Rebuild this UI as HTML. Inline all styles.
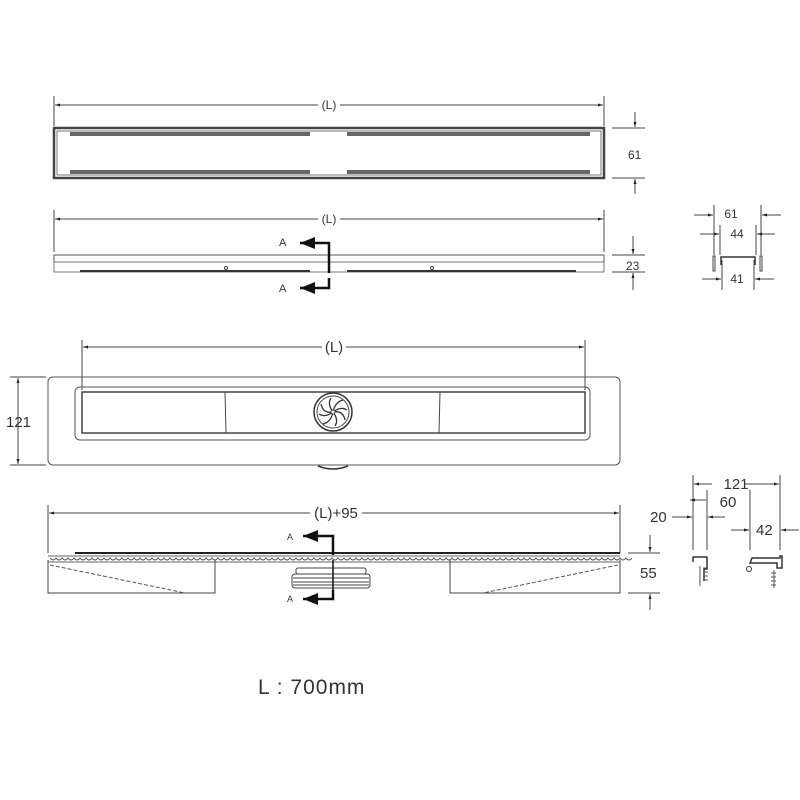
<!DOCTYPE html>
<html><head><meta charset="utf-8"><style>
html,body{margin:0;padding:0;background:#fff;}
svg{display:block;}
text{font-family:"Liberation Sans",sans-serif;fill:#333;}
</style></head><body>
<svg width="800" height="800" viewBox="0 0 800 800" xmlns="http://www.w3.org/2000/svg">
<defs>
<marker id="ar" viewBox="0 0 10 10" refX="10" refY="5" markerWidth="7" markerHeight="5" orient="auto-start-reverse"><path d="M0,2 L10,5 L0,8 z" fill="#222"/></marker>
<marker id="big" viewBox="0 0 10 10" refX="10" refY="5" markerWidth="6" markerHeight="6" orient="auto"><path d="M0,1 L10,5 L0,9 z" fill="#111"/></marker>
</defs>
<g stroke="#444" fill="none" stroke-width="1">
<!-- View 1 -->
<line x1="54" y1="96" x2="54" y2="126"/><line x1="604" y1="96" x2="604" y2="126"/>
<line x1="55" y1="105" x2="318" y2="105" marker-start="url(#ar)"/><line x1="340" y1="105" x2="603" y2="105" marker-end="url(#ar)"/>
<rect x="54" y="128" width="550" height="50" stroke="#444" stroke-width="2.5"/>
<rect x="57" y="131" width="544" height="44" stroke="#777"/>
<line x1="70" y1="134" x2="310" y2="134" stroke="#666" stroke-width="4"/><line x1="347" y1="134" x2="590" y2="134" stroke="#666" stroke-width="4"/>
<line x1="70" y1="172" x2="310" y2="172" stroke="#666" stroke-width="4"/><line x1="347" y1="172" x2="590" y2="172" stroke="#666" stroke-width="4"/>
<line x1="612" y1="128" x2="645" y2="128"/><line x1="612" y1="178" x2="645" y2="178"/>
<line x1="635" y1="112" x2="635" y2="127" marker-end="url(#ar)"/><line x1="635" y1="194" x2="635" y2="179" marker-end="url(#ar)"/>
<!-- View 2 -->
<line x1="54" y1="210" x2="54" y2="252"/><line x1="604" y1="210" x2="604" y2="252"/>
<line x1="55" y1="219" x2="318" y2="219" marker-start="url(#ar)"/><line x1="340" y1="219" x2="603" y2="219" marker-end="url(#ar)"/>
<rect x="54" y="255" width="550" height="7" stroke="#555"/>
<rect x="54" y="262" width="550" height="10" stroke="#777"/>
<line x1="80" y1="271" x2="310" y2="271" stroke="#333" stroke-width="2"/><line x1="347" y1="271" x2="576" y2="271" stroke="#333" stroke-width="2"/>
<circle cx="226" cy="268" r="1.5"/><circle cx="432" cy="268" r="1.5"/>
<line x1="612" y1="255" x2="645" y2="255"/><line x1="612" y1="272" x2="645" y2="272"/>
<line x1="633" y1="236" x2="633" y2="254" marker-end="url(#ar)"/><line x1="633" y1="290" x2="633" y2="273" marker-end="url(#ar)"/>
<!-- section A small -->
<line x1="714" y1="205" x2="714" y2="255"/><line x1="761" y1="205" x2="761" y2="255"/>
<line x1="720" y1="225" x2="720" y2="255"/><line x1="756" y1="225" x2="756" y2="255"/>
<line x1="722" y1="260" x2="722" y2="290"/><line x1="754" y1="260" x2="754" y2="290"/>
<line x1="694" y1="215" x2="713" y2="215" marker-end="url(#ar)"/><line x1="781" y1="215" x2="762" y2="215" marker-end="url(#ar)"/>
<line x1="700" y1="234" x2="719" y2="234" marker-end="url(#ar)"/><line x1="775" y1="234" x2="757" y2="234" marker-end="url(#ar)"/>
<line x1="702" y1="279" x2="721" y2="279" marker-end="url(#ar)"/><line x1="774" y1="279" x2="755" y2="279" marker-end="url(#ar)"/>
<path d="M721,265 v-8 h34 v8" stroke="#333" stroke-width="1.5"/>
<rect x="713" y="256" width="2" height="15"/><rect x="760" y="256" width="2" height="15"/>
<!-- View 3 -->
<line x1="82" y1="340" x2="82" y2="390"/><line x1="585" y1="340" x2="585" y2="390"/>
<line x1="83" y1="347" x2="322" y2="347" marker-start="url(#ar)"/><line x1="346" y1="347" x2="584" y2="347" marker-end="url(#ar)"/>
<rect x="48" y="377" width="572" height="88" rx="5" stroke="#555"/>
<rect x="75" y="387" width="515" height="53" rx="5" stroke="#555"/>
<rect x="82" y="392" width="503" height="41" stroke="#444" stroke-width="1.5"/>
<line x1="225" y1="392" x2="226" y2="433"/><line x1="440" y1="392" x2="439" y2="433"/>
<circle cx="333" cy="412" r="19" stroke="#333" stroke-width="1.5"/><circle cx="333" cy="412" r="16"/>
<g stroke="#333" stroke-width="1.3">
<path d="M333,412 q2,-10 10,-12"/><path d="M333,412 q10,-2 12,8"/><path d="M333,412 q-2,10 -10,12"/><path d="M333,412 q-10,2 -12,-8"/>
<path d="M333,412 q8,-6 14,-2"/><path d="M333,412 q6,8 2,14"/><path d="M333,412 q-8,6 -14,2"/><path d="M333,412 q-6,-8 -2,-14"/>
</g>
<circle cx="333" cy="412" r="2" fill="#fff"/>
<path d="M318,466 q15,6 30,0" stroke="#333" stroke-width="1.5"/>
<line x1="10" y1="377" x2="46" y2="377"/><line x1="10" y1="465" x2="46" y2="465"/>
<line x1="18" y1="378" x2="18" y2="464" marker-start="url(#ar)" marker-end="url(#ar)"/>
<!-- View 4 -->
<line x1="48" y1="505" x2="48" y2="553"/><line x1="620" y1="505" x2="620" y2="553"/>
<line x1="49" y1="513" x2="310" y2="513" marker-start="url(#ar)"/><line x1="362" y1="513" x2="619" y2="513" marker-end="url(#ar)"/>
<line x1="75" y1="553" x2="620" y2="553" stroke="#222" stroke-width="2"/>
<path d="M48,556 L620,556" stroke="#666"/>
<path d="M50,558 q3,4 6,0 q3,4 6,0 q3,4 6,0 q3,4 6,0 q3,4 6,0 q3,4 6,0 q3,4 6,0 q3,4 6,0 q3,4 6,0 q3,4 6,0 q3,4 6,0 q3,4 6,0 q3,4 6,0 q3,4 6,0 q3,4 6,0 q3,4 6,0 q3,4 6,0 q3,4 6,0 q3,4 6,0 q3,4 6,0 q3,4 6,0 q3,4 6,0 q3,4 6,0 q3,4 6,0 q3,4 6,0 q3,4 6,0 q3,4 6,0 q3,4 6,0 q3,4 6,0 q3,4 6,0 q3,4 6,0 q3,4 6,0 q3,4 6,0 q3,4 6,0 q3,4 6,0 q3,4 6,0 q3,4 6,0 q3,4 6,0 q3,4 6,0 q3,4 6,0 q3,4 6,0 q3,4 6,0 q3,4 6,0 q3,4 6,0 q3,4 6,0 q3,4 6,0 q3,4 6,0 q3,4 6,0 q3,4 6,0 q3,4 6,0 q3,4 6,0 q3,4 6,0 q3,4 6,0 q3,4 6,0 q3,4 6,0 q3,4 6,0 q3,4 6,0 q3,4 6,0 q3,4 6,0 q3,4 6,0 q3,4 6,0 q3,4 6,0 q3,4 6,0 q3,4 6,0 q3,4 6,0 q3,4 6,0 q3,4 6,0 q3,4 6,0 q3,4 6,0 q3,4 6,0 q3,4 6,0 q3,4 6,0 q3,4 6,0 q3,4 6,0 q3,4 6,0 q3,4 6,0 q3,4 6,0 q3,4 6,0 q3,4 6,0 q3,4 6,0 q3,4 6,0 q3,4 6,0 q3,4 6,0 q3,4 6,0 q3,4 6,0 q3,4 6,0 q3,4 6,0 q3,4 6,0 q3,4 6,0 q3,4 6,0 q3,4 6,0 q3,4 6,0 q3,4 6,0 q3,4 6,0 q3,4 6,0 q3,4 6,0 q3,4 6,0" stroke="#555"/>
<line x1="48" y1="562" x2="620" y2="562" stroke="#666"/>
<path d="M48,560 V593 H215 V560"/><path d="M620,560 V593 H450 V560"/>
<path d="M50,565 L185,593" stroke="#555" stroke-dasharray="4,2"/><path d="M618,565 L483,593" stroke="#555" stroke-dasharray="4,2"/>
<rect x="296" y="568" width="70" height="6" rx="2"/>
<rect x="292" y="574" width="78" height="14" rx="3"/>
<line x1="293" y1="578" x2="369" y2="578"/><line x1="293" y1="582" x2="369" y2="582"/><line x1="293" y1="585" x2="369" y2="585"/>
<line x1="628" y1="553" x2="660" y2="553"/><line x1="628" y1="593" x2="660" y2="593"/>
<line x1="650" y1="535" x2="650" y2="552" marker-end="url(#ar)"/><line x1="650" y1="610" x2="650" y2="594" marker-end="url(#ar)"/>
<!-- section A large -->
<line x1="693" y1="475" x2="693" y2="550"/><line x1="707" y1="490" x2="707" y2="550"/>
<line x1="750" y1="490" x2="750" y2="550"/><line x1="780" y1="475" x2="780" y2="550"/>
<line x1="694" y1="484" x2="712" y2="484" marker-start="url(#ar)"/><line x1="744" y1="484" x2="779" y2="484" marker-end="url(#ar)"/>
<line x1="690" y1="500" x2="706" y2="500" marker-start="url(#ar)"/>
<line x1="672" y1="517" x2="692" y2="517" marker-end="url(#ar)"/><line x1="725" y1="517" x2="708" y2="517" marker-end="url(#ar)"/>
<line x1="731" y1="530" x2="749" y2="530" marker-end="url(#ar)"/><line x1="799" y1="530" x2="781" y2="530" marker-end="url(#ar)"/>
<path d="M693,562 v-5 h14 v12 h-3 v12" stroke="#333" stroke-width="1.5"/>
<path d="M700,566 v20 M703,568 h5 M703,572 h5 M703,576 h5 M703,580 h5" stroke="#555"/>
<path d="M752,558 h28 v-2 h2 v12 h-5 v-5 h-27 z" stroke="#333" stroke-width="1.5"/>
<circle cx="749" cy="569" r="2.5" stroke="#333"/>
<path d="M774,570 v18 M771,573 h5 M771,577 h5 M771,581 h5 M771,585 h5" stroke="#555"/>
</g>
<!-- A section arrows -->
<g stroke="#111" stroke-width="2.5" fill="none">
<path d="M329,273 V243 H300" marker-end="url(#big)"/>
<path d="M329,278 V288 H300" marker-end="url(#big)"/>
<path d="M333,555 V536 H303" marker-end="url(#big)"/>
<path d="M333,560 V592" stroke-width="1.5"/>
<path d="M333,590 V599 H303" marker-end="url(#big)"/>
</g>
<g font-size="12">
<text x="329" y="109" text-anchor="middle">(L)</text>
<text x="329" y="223" text-anchor="middle">(L)</text>
<text x="628" y="159">61</text>
<text x="626" y="270">23</text>
<text x="279" y="246" font-size="11">A</text>
<text x="279" y="292" font-size="11">A</text>
<text x="731" y="218" text-anchor="middle">61</text>
<text x="737" y="238" text-anchor="middle">44</text>
<text x="737" y="283" text-anchor="middle">41</text>
<text x="287" y="540" font-size="9">A</text>
<text x="287" y="602" font-size="9">A</text>
</g>
<g font-size="15">
<text x="334" y="352" text-anchor="middle">(L)</text>
<text x="6" y="427">121</text>
<text x="336" y="518" text-anchor="middle">(L)+95</text>
<text x="640" y="578">55</text>
<text x="736" y="489" text-anchor="middle">121</text>
<text x="728" y="507" text-anchor="middle">60</text>
<text x="650" y="522">20</text>
<text x="756" y="535">42</text>
</g>
<text x="258" y="694" font-size="21" letter-spacing="1">L : 700mm</text>
</svg>
</body></html>
